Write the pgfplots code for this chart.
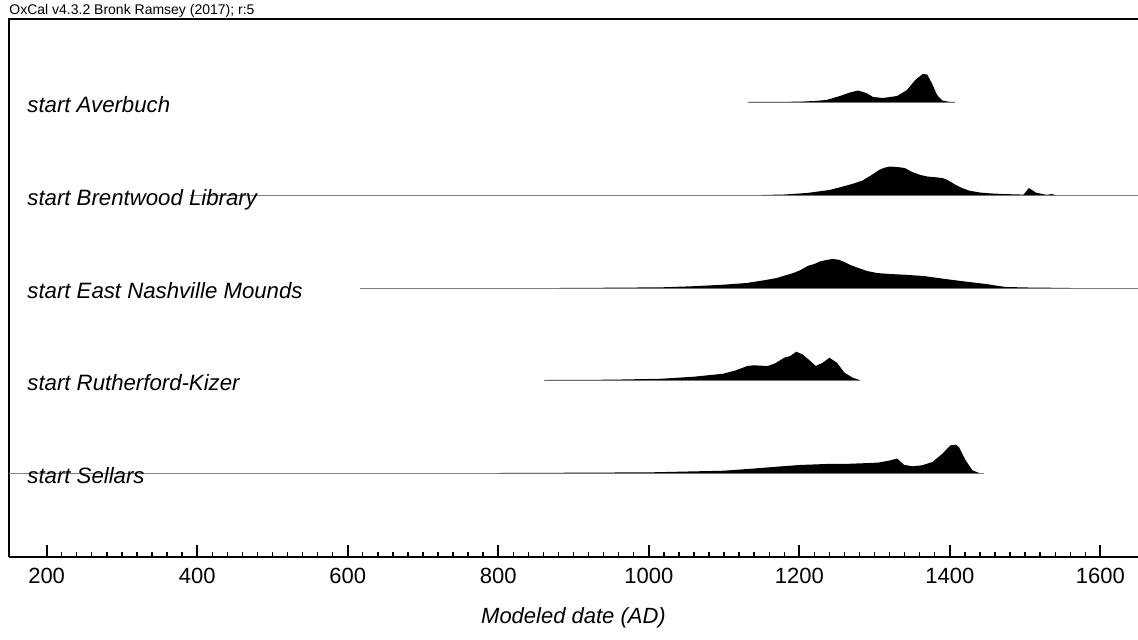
\documentclass[border=0pt]{standalone}
\usepackage{pgfplots}
\pgfplotsset{compat=1.18}
\usepackage{fontspec}
\setmainfont{Liberation Sans}
\begin{document}
\begin{tikzpicture}
\begin{axis}[
  name=ax,
  at={(0,0)}, anchor=south west,
  scale only axis, width=564.5pt, height=269pt,
  xmin=150, xmax=1650, ymin=0, ymax=538,
  axis x line*=bottom, axis y line*=left,
  axis line style={line width=1.2pt, black},
  xtick={200,400,...,1600}, minor x tick num=9,
  ytick=\empty,
  tick align=inside,
  major tick length=6.2pt, minor tick length=2.6pt,
  major tick style={line width=1pt, black},
  minor tick style={line width=0.7pt, black},
  /pgf/number format/assume math mode=true,
  /pgf/number format/set thousands separator={},
  xticklabel style={font=\fontsize{11pt}{13pt}\selectfont, anchor=center, yshift=-9.3pt},
  xlabel={\textit{Modeled date (AD)}},
  xlabel style={font=\fontsize{11pt}{13pt}\selectfont, at={(axis description cs:0.5,0)}, anchor=center, yshift=-30.5pt},
  clip=true,
]
% baselines
\addplot[black!50, line width=0.5pt] coordinates {(1132,455) (1407,455)};
\addplot[black!50, line width=0.5pt] coordinates {(390,362) (1650,362)};
\addplot[black!50, line width=0.5pt] coordinates {(616,269) (1650,269)};
\addplot[black!50, line width=0.5pt] coordinates {(861,177) (1280,177)};
\addplot[black!50, line width=0.5pt] coordinates {(150,84) (1446,84)};
% Averbuch
\addplot[fill=black, draw=none] table[x=x, y expr=\thisrow{h}+455] {
x h
1132 0
1200 0.3
1220 1
1236 2
1254 6
1267 9.5
1278 11.5
1289 9
1298 5
1311 4
1330 6
1343 12
1354 22
1364 28
1370 27.5
1376 19
1383 7
1390 1.5
1399 0.2
1407 0
};
% Brentwood Library
\addplot[fill=black, draw=none] table[x=x, y expr=\thisrow{h}+362] {
x h
1150 0
1180 0.5
1210 2
1240 5
1258 8.5
1270 11
1284 14.5
1296 20
1306 25
1312 27
1320 28.5
1330 28
1340 27
1350 23
1361 20
1370 18.5
1380 17.8
1390 17
1397 15
1408 10
1416 7
1426 4.3
1440 2.5
1452 1.7
1470 1
1483 0.7
1498 0.4
1505 7
1509 5
1514 2.5
1525 0.6
1530 0.2
1535 1
1540 0
};
% East Nashville Mounds
\addplot[fill=black, draw=none] table[x=x, y expr=\thisrow{h}+269] {
x h
880 0
950 0.3
1018 0.7
1060 1.8
1099 3.3
1130 5
1153 7.7
1170 10
1180 12.3
1192 15
1201 17.7
1212 22.3
1220 24
1228 26.7
1236 28
1244 29
1252 28.3
1260 26
1268 23
1276 20.7
1290 17
1303 15
1320 14
1340 13.3
1365 12
1394 9
1420 6.5
1448 4
1465 2
1475 1
1510 0.4
1544 0.2
1560 0
};
% Rutherford-Kizer
\addplot[fill=black, draw=none] table[x=x, y expr=\thisrow{h}+177] {
x h
861 0
950 0.3
1018 1.3
1060 3.3
1099 6.3
1115 9.5
1131 14
1139 14.7
1158 14
1168 16.7
1180 22.3
1188 24
1196 28.3
1204 25.7
1212 20.7
1222 14
1231 17.3
1240 22.3
1250 17.3
1260 7.3
1271 2.3
1280 0
};
% Sellars
\addplot[fill=black, draw=none] table[x=x, y expr=\thisrow{h}+84] {
x h
800 0
900 0.3
1004 0.7
1100 2.3
1140 4.5
1177 6.7
1200 8
1235 9
1265 9.2
1293 10
1306 10.5
1320 12.5
1330 14.5
1339 8.3
1350 6.7
1363 7.7
1377 11
1390 19.3
1401 27.7
1408 28.3
1412 26
1421 12.7
1430 2.7
1439 0
};
% labels
\begin{scope}[every node/.style={anchor=base west, font=\fontsize{11.1pt}{13pt}\selectfont\itshape, inner sep=0pt, xshift=9pt, yshift=-5pt}]
\node at (axis cs:150,455) {start Averbuch};
\node at (axis cs:150,362) {start Brentwood Library};
\node at (axis cs:150,269) {start East Nashville Mounds};
\node at (axis cs:150,177) {start Rutherford-Kizer};
\node at (axis cs:150,84) {start Sellars};
\end{scope}
\end{axis}
\draw[line width=1.2pt, black] ([xshift=-0.6pt]ax.north west) -- ([xshift=4pt]ax.north east);
\node[anchor=base west, inner sep=0pt, font=\fontsize{7pt}{8pt}\selectfont] at ([yshift=2.2pt]ax.north west) {OxCal v4.3.2 Bronk Ramsey (2017); r:5};
\pgfresetboundingbox
\path (-4.5pt,-41pt) rectangle (564.5pt,278.5pt);
\end{tikzpicture}
\end{document}
